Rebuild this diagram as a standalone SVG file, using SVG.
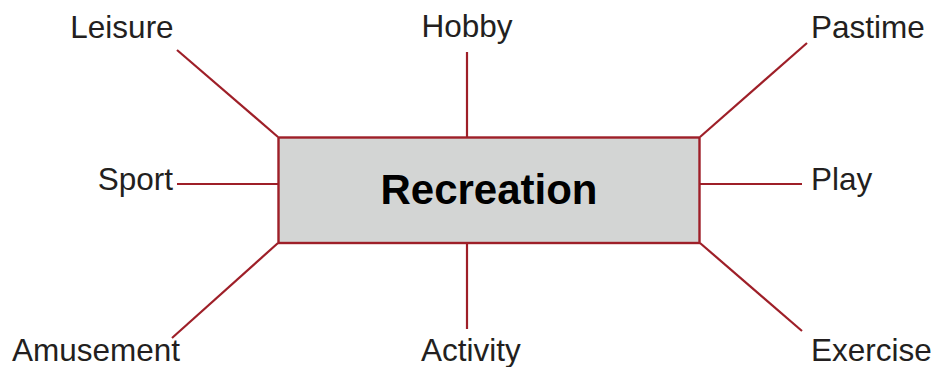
<svg xmlns="http://www.w3.org/2000/svg" width="934" height="367" viewBox="0 0 934 367">
<style>
.c{stroke:#9e1f28;stroke-width:2.2;fill:none}
.t{font-family:"Liberation Sans",Arial,sans-serif;font-size:31.5px;fill:#231f20}
.m{font-family:"Liberation Sans",Arial,sans-serif;font-size:42px;font-weight:bold;fill:#000}
</style>
<rect width="934" height="367" fill="#fff"/>
<g id="connectors">
<line class="c" x1="177" y1="50" x2="278" y2="137"/>
<line class="c" x1="467" y1="52" x2="467" y2="137"/>
<line class="c" x1="807" y1="43" x2="700" y2="137"/>
<line class="c" x1="177" y1="184" x2="278" y2="184"/>
<line class="c" x1="700" y1="184" x2="802" y2="184"/>
<line class="c" x1="278" y1="243" x2="172" y2="338"/>
<line class="c" x1="467" y1="243" x2="467" y2="329"/>
<line class="c" x1="700" y1="243" x2="802" y2="331"/>
</g>
<g id="recreation">
<rect x="278.5" y="137.5" width="421" height="105.5" fill="#d3d5d4" stroke="#9e1f28" stroke-width="2.4"/>
<text class="m" x="489" y="204" text-anchor="middle">Recreation</text>
</g>
<g id="leisure"><text class="t" x="122" y="38" text-anchor="middle">Leisure</text></g>
<g id="hobby"><text class="t" x="467" y="37" text-anchor="middle">Hobby</text></g>
<g id="pastime"><text class="t" x="811" y="38">Pastime</text></g>
<g id="sport"><text class="t" x="173" y="190" text-anchor="end">Sport</text></g>
<g id="play"><text class="t" x="811" y="190">Play</text></g>
<g id="amusement"><text class="t" x="12" y="361">Amusement</text></g>
<g id="activity"><text class="t" x="471" y="361" text-anchor="middle">Activity</text></g>
<g id="exercise"><text class="t" x="811" y="361">Exercise</text></g>
</svg>
